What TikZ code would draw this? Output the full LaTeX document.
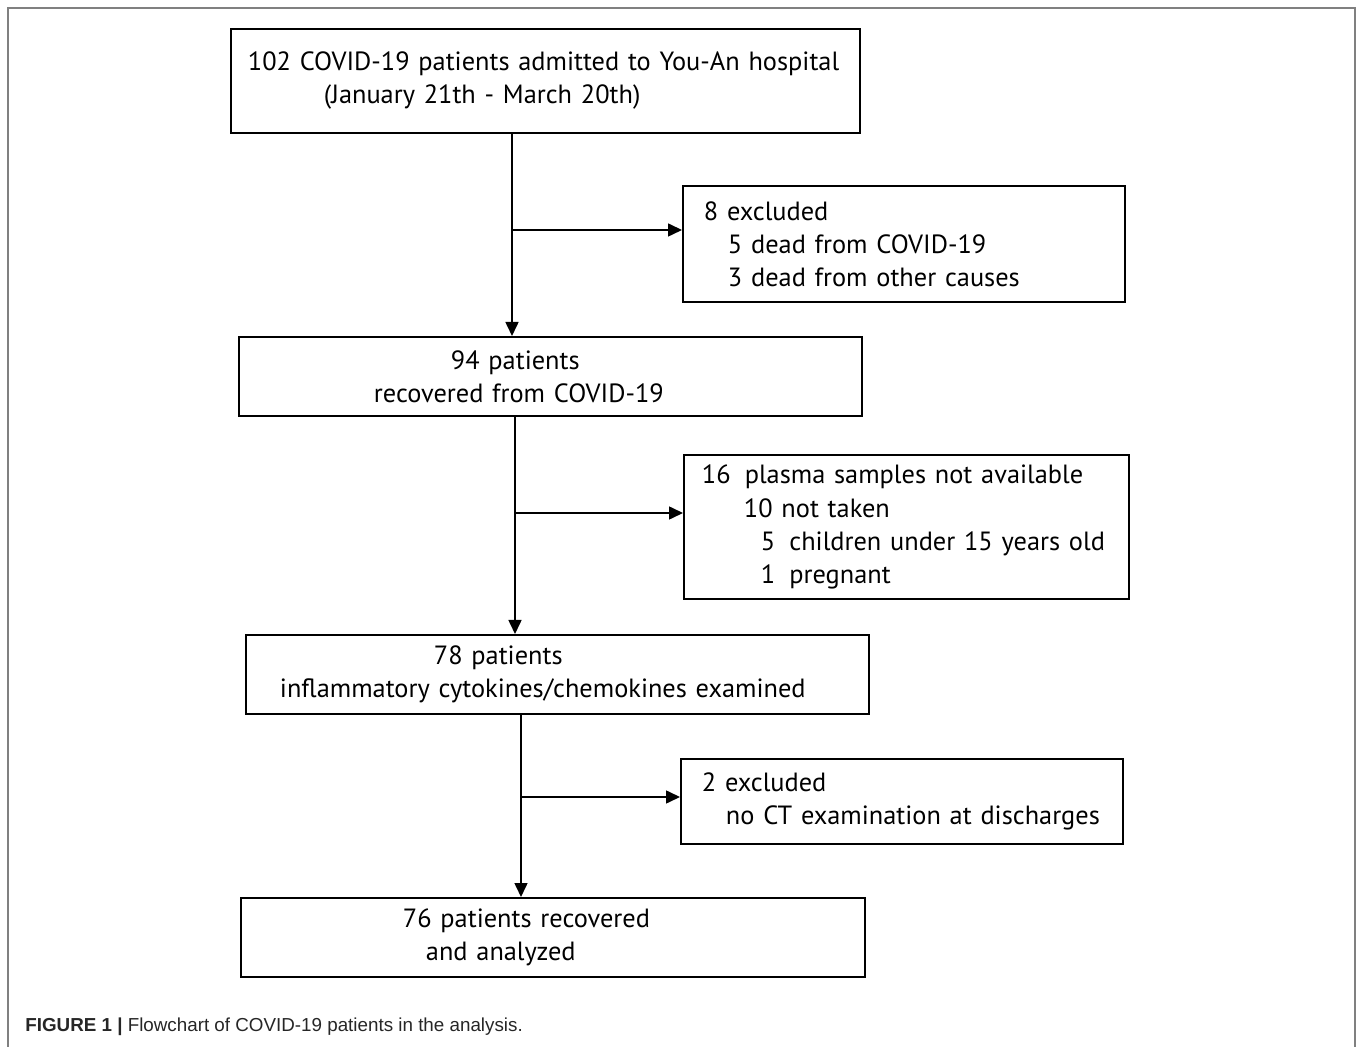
\documentclass[tikz,border=0pt]{standalone}
\usepackage{fontspec}
\setmainfont{PT Sans}
\newfontfamily\capfont{Liberation Sans}
\usetikzlibrary{arrows.meta,positioning}

\begin{document}
\begin{tikzpicture}[
    stage/.style={rectangle, draw=black, line width=1.1pt, anchor=north west,
                  align=left, inner ysep=0pt, font=\fontsize{15}{18.8}\selectfont},
    arr/.style={-{Triangle[length=0.28cm, width=0.26cm]}, line width=0.9pt},
    frame/.style={draw=black!50, line width=1pt},
    caption/.style={anchor=west, inner sep=0pt, text=black!85,
                    font=\capfont\fontsize{10.7}{12.8}\selectfont}
]
\useasboundingbox (0,0) rectangle (27.16,-20.94);

% --- outer frame ---
\draw[frame] (0.16,-20.94) -- (0.16,-0.16) -- (27.10,-0.16) -- (27.10,-20.94);

% --- main column ---
\node[stage, minimum width=12.58cm, minimum height=2.08cm, text width=11.90cm, inner xsep=0.34cm]
  (admitted) at (4.60,-0.56)
  {\rule{0pt}{0.2cm}102 COVID-19 patients admitted to You-An hospital\\\hspace*{1.52cm}(January 21th - March 20th)};
\node[stage, minimum width=12.46cm, minimum height=1.58cm, text width=7.06cm, inner xsep=2.70cm]
  (recovered) at (4.76,-6.72)
  {\hspace*{1.54cm}94 patients\\recovered from COVID-19};
\node[stage, minimum width=12.46cm, minimum height=1.58cm, text width=11.10cm, inner xsep=0.68cm]
  (examined) at (4.90,-12.68)
  {\hspace*{3.08cm}78 patients\\inflammatory cytokines/chemokines examined};
\node[stage, minimum width=12.48cm, minimum height=1.58cm, text width=6.00cm, inner xsep=3.24cm]
  (analyzed) at (4.80,-17.94)
  {76 patients recovered\\\hspace*{0.46cm}and analyzed};

% --- exclusion boxes ---
\node[stage, minimum width=8.84cm, minimum height=2.32cm, text width=8.00cm, inner xsep=0.42cm]
  (deadout) at (13.64,-3.70)
  {8 excluded\\\hspace*{0.48cm}5 dead from COVID-19\\\hspace*{0.48cm}3 dead from other causes};
\node[stage, minimum width=8.90cm, minimum height=2.88cm, text width=8.18cm, inner xsep=0.36cm]
  (plasmaout) at (13.66,-9.08)
  {16\hspace{0.2em} plasma samples not available\\\hspace*{0.84cm}10 not taken\\
   \hspace*{1.18cm}5\hspace{0.2em} children under 15 years old\\\hspace*{1.18cm}1\hspace{0.2em} pregnant};
\node[stage, minimum width=8.84cm, minimum height=1.70cm, text width=8.00cm, inner xsep=0.42cm]
  (ctout) at (13.60,-15.16)
  {2 excluded\\\hspace*{0.48cm}no CT examination at discharges};

% --- trunks and forks ---
\coordinate (trunkA) at (10.24,0);
\coordinate (trunkB) at (10.30,0);
\coordinate (trunkC) at (10.42,0);
\coordinate (forkA) at (10.24,-4.60);
\coordinate (forkB) at (10.30,-10.26);
\coordinate (forkC) at (10.42,-15.94);

% arrows
\draw[arr] (admitted.south -| trunkA) -- (recovered.north -| trunkA);
\draw[arr] (recovered.south -| trunkB) -- (examined.north -| trunkB);
\draw[arr] (examined.south -| trunkC) -- (analyzed.north -| trunkC);
\draw[arr] (forkA) -- (forkA -| deadout.west);
\draw[arr] (forkB) -- (forkB -| plasmaout.west);
\draw[arr] (forkC) -- (forkC -| ctout.west);

% --- caption ---
\node[caption] (figcap) at (0.50,-20.54)
  {\textbf{FIGURE 1} \textbf{|} Flowchart of COVID-19 patients in the analysis.};

\end{tikzpicture}
\end{document}
